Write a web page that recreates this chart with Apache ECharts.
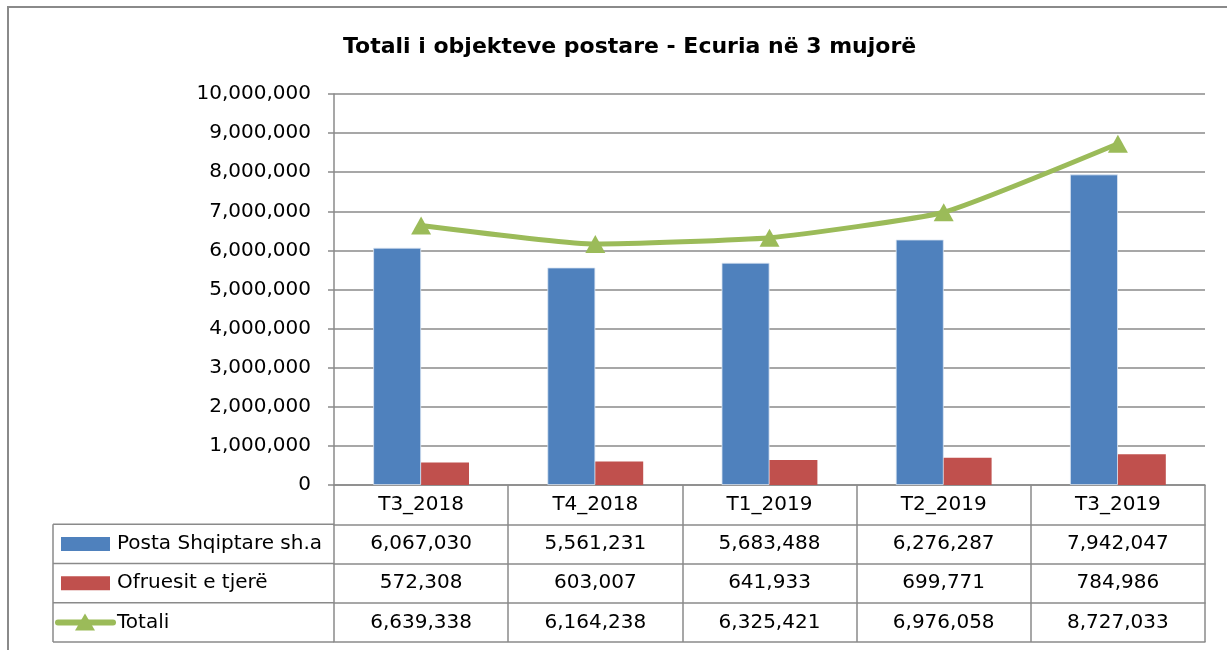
<!DOCTYPE html>
<html>
<head>
  <meta charset="utf-8">
  <title>Totali i objekteve postare</title>
  <script src="https://cdn.jsdelivr.net/npm/echarts@6/dist/echarts.min.js"></script>
  <style>
    html, body { margin: 0; padding: 0; background: #fff; }
    #chart { width: 1227px; height: 650px; }
  </style>
</head>
<body>
  <div id="chart"></div>
  <script>
    // te dhenat
    var categories = ['T3_2018', 'T4_2018', 'T1_2019', 'T2_2019', 'T3_2019'];
    var postaValues = [6067030, 5561231, 5683488, 6276287, 7942047];
    var ofruesitValues = [572308, 603007, 641933, 699771, 784986];
    var totaliValues = [6639338, 6164238, 6325421, 6976058, 8727033];
    var seriesNames = ['Posta Shqiptare sh.a', 'Ofruesit e tjerë', 'Totali'];
    var yMin = 0, yMax = 10000000, yStep = 1000000;

    var FONT = 'DejaVu Sans';
    var GRAY = '#8a8a8a';
    var BLUE = '#4F81BD', RED = '#C0504D', GREEN = '#9BBB59';

    // layout
    var gridLeft = 334, gridRight = 22, gridTop = 94, gridBottom = 165;
    var axisY = 650 - gridBottom;
    var rowH = 39.25;
    var tableLeft = 53;

    function fmt(v) { return v.toLocaleString('en-US'); }

    function tableAxis(data, k, showLabel) {
      return {
        type: 'category',
        data: data,
        position: 'bottom',
        offset: rowH * k,
        boundaryGap: true,
        axisLine: { show: true, lineStyle: { color: GRAY, width: 1.5 } },
        axisTick: { show: showLabel, interval: 0, length: rowH, lineStyle: { color: GRAY, width: 1.5 } },
        axisLabel: {
          show: showLabel, interval: 0, margin: rowH / 2, verticalAlign: 'middle',
          color: '#000', fontFamily: FONT, fontSize: 20
        },
        splitLine: { show: false }
      };
    }

    var chart = echarts.init(document.getElementById('chart'));

    var graphics = [
      // korniza
      { type: 'rect', shape: { x: 8, y: 7, width: 1240, height: 700 },
        style: { fill: 'none', stroke: GRAY, lineWidth: 2 }, silent: true },
      // vija majtas e tabeles
      { type: 'line', shape: { x1: tableLeft, y1: axisY + rowH, x2: tableLeft, y2: axisY + rowH * 4 },
        style: { stroke: GRAY, lineWidth: 1.5 } }
    ];
    for (var k = 1; k <= 4; k++) {
      graphics.push({ type: 'line',
        shape: { x1: tableLeft, y1: axisY + rowH * k, x2: gridLeft, y2: axisY + rowH * k },
        style: { stroke: GRAY, lineWidth: 1.5 } });
    }
    // legjenda ne tabele
    var swatchColors = [BLUE, RED];
    for (var i = 0; i < 3; i++) {
      var cy = axisY + rowH * (i + 1) + rowH / 2;
      if (i < 2) {
        graphics.push({ type: 'rect', shape: { x: 61, y: cy - 7, width: 49, height: 14 },
          style: { fill: swatchColors[i] } });
      } else {
        graphics.push({ type: 'line', shape: { x1: 58, y1: cy, x2: 113, y2: cy },
          style: { stroke: GREEN, lineWidth: 6, lineCap: 'round' } });
        graphics.push({ type: 'polygon',
          shape: { points: [[85, cy - 9], [95, cy + 8], [75, cy + 8]] },
          style: { fill: GREEN } });
      }
      graphics.push({ type: 'text', x: 117, y: cy,
        style: { text: seriesNames[i], fill: '#000', font: '20px "' + FONT + '"',
          textVerticalAlign: 'middle', verticalAlign: 'middle' } });
    }

    var option = {
      animation: false,
      title: {
        text: 'Totali i objekteve postare - Ecuria në 3 mujorë',
        left: 338, top: 31,
        textStyle: { fontFamily: FONT, fontSize: 22, fontWeight: 'bold', color: '#000' }
      },
      grid: { left: gridLeft, right: gridRight, top: gridTop, bottom: gridBottom },
      xAxis: [
        tableAxis(categories, 0, true),
        tableAxis(postaValues.map(fmt), 1, true),
        tableAxis(ofruesitValues.map(fmt), 2, true),
        tableAxis(totaliValues.map(fmt), 3, true),
        tableAxis(categories, 4, false)
      ],
      yAxis: {
        type: 'value',
        min: yMin, max: yMax, interval: yStep,
        axisLine: { show: true, lineStyle: { color: GRAY, width: 1.5 } },
        axisTick: { show: true, length: 6, lineStyle: { color: GRAY, width: 1.5 } },
        axisLabel: { margin: 23, color: '#000', fontFamily: FONT, fontSize: 20, formatter: fmt },
        splitLine: { show: true, lineStyle: { color: GRAY, width: 1.5 } }
      },
      series: [
        {
          name: seriesNames[0], type: 'bar', xAxisIndex: 0, data: postaValues,
          barGap: '0%', barCategoryGap: '45%',
          itemStyle: { color: BLUE, borderColor: '#dce6f2', borderWidth: 0.8 }
        },
        {
          name: seriesNames[1], type: 'bar', xAxisIndex: 0, data: ofruesitValues,
          barGap: '0%', barCategoryGap: '45%',
          itemStyle: { color: RED }
        },
        {
          name: seriesNames[2], type: 'line', xAxisIndex: 0, data: totaliValues,
          smooth: 0.15, symbol: 'triangle', symbolSize: [20, 18], z: 5,
          lineStyle: { color: GREEN, width: 5 },
          itemStyle: { color: GREEN }
        }
      ],
      graphic: graphics
    };

    chart.setOption(option);
  </script>
</body>
</html>
